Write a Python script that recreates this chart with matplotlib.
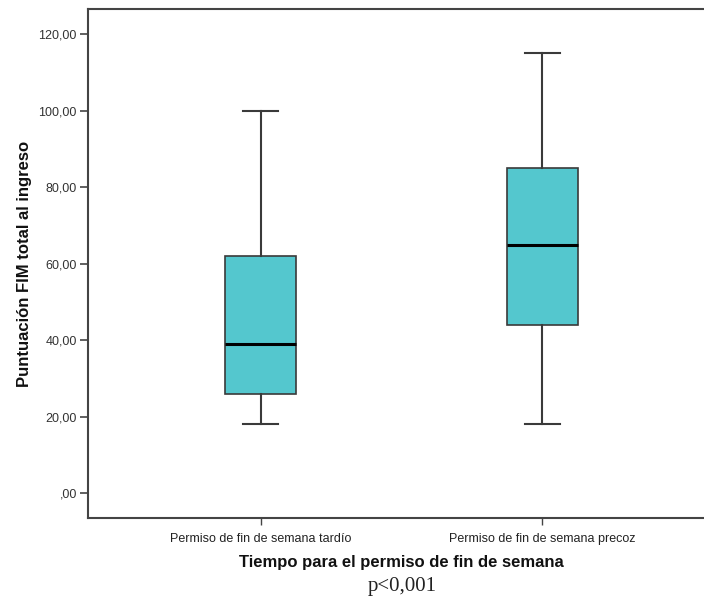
import matplotlib
matplotlib.use("Agg")
import matplotlib.pyplot as plt
from matplotlib.ticker import FuncFormatter

# Summary statistics of the FIM score per group
categories = ["Permiso de fin de semana tardío", "Permiso de fin de semana precoz"]
whisker_low = [18, 18]
q1 = [26, 44]
median = [39, 65]
q3 = [62, 85]
whisker_high = [100, 115]

y_ticks = [0, 20, 40, 60, 80, 100, 120]

W, H = 704, 601
fig = plt.figure(figsize=(W / 100, H / 100), dpi=100)
fig.patch.set_facecolor("white")

# axes box in pixel units (right edge runs past the canvas)
left, right, top, bottom = 88, 715, 9, 518
ax = fig.add_axes([left / W, 1 - bottom / H, (right - left) / W, (bottom - top) / H])

stats = []
for i, name in enumerate(categories):
    stats.append(dict(label=name, whislo=whisker_low[i], q1=q1[i], med=median[i],
                      q3=q3[i], whishi=whisker_high[i], fliers=[]))

edge = "#3a3a3a"
ax.bxp(stats, positions=[1, 2], widths=0.25, patch_artist=True, showfliers=False,
       boxprops=dict(facecolor="#54c7ce", edgecolor=edge, linewidth=1.2),
       medianprops=dict(color="black", linewidth=2.2),
       whiskerprops=dict(color=edge, linewidth=1.5),
       capprops=dict(color=edge, linewidth=1.5),
       capwidths=0.125)

ax.set_xlim(0.388, 2.612)
ax.set_ylim(-6.5, 126.6)

ax.set_yticks(y_ticks)
ax.yaxis.set_major_formatter(FuncFormatter(
    lambda v, p: (",00" if v == 0 else f"{v:.2f}".replace(".", ","))))
ax.set_xticks([1, 2])
ax.set_xticklabels(categories)

for s in ax.spines.values():
    s.set_color("#444444")
    s.set_linewidth(1.5)

ax.tick_params(axis="y", direction="out", length=6, width=1.2, color="#444444",
               labelsize=9, labelcolor="#333333", pad=2)
ax.tick_params(axis="x", direction="out", length=5, width=1.0, color="#444444",
               labelsize=9, labelcolor="#222222", pad=6)
for t in ax.get_xticklabels() + ax.get_yticklabels():
    t.set_family("Liberation Sans")

ax.set_ylabel("Puntuación FIM total al ingreso", family="Liberation Sans",
              fontweight="bold", fontsize=12, color="#111111", labelpad=5)
ax.set_xlabel("Tiempo para el permiso de fin de semana", family="Liberation Sans",
              fontweight="bold", fontsize=12, color="#111111", labelpad=7)

fig.text(402 / W, 1 - 586 / H, "p<0,001", family="Liberation Serif", fontsize=15,
         color="#222222", ha="center", va="center")

fig.savefig("out.png", dpi=100, facecolor="white")
